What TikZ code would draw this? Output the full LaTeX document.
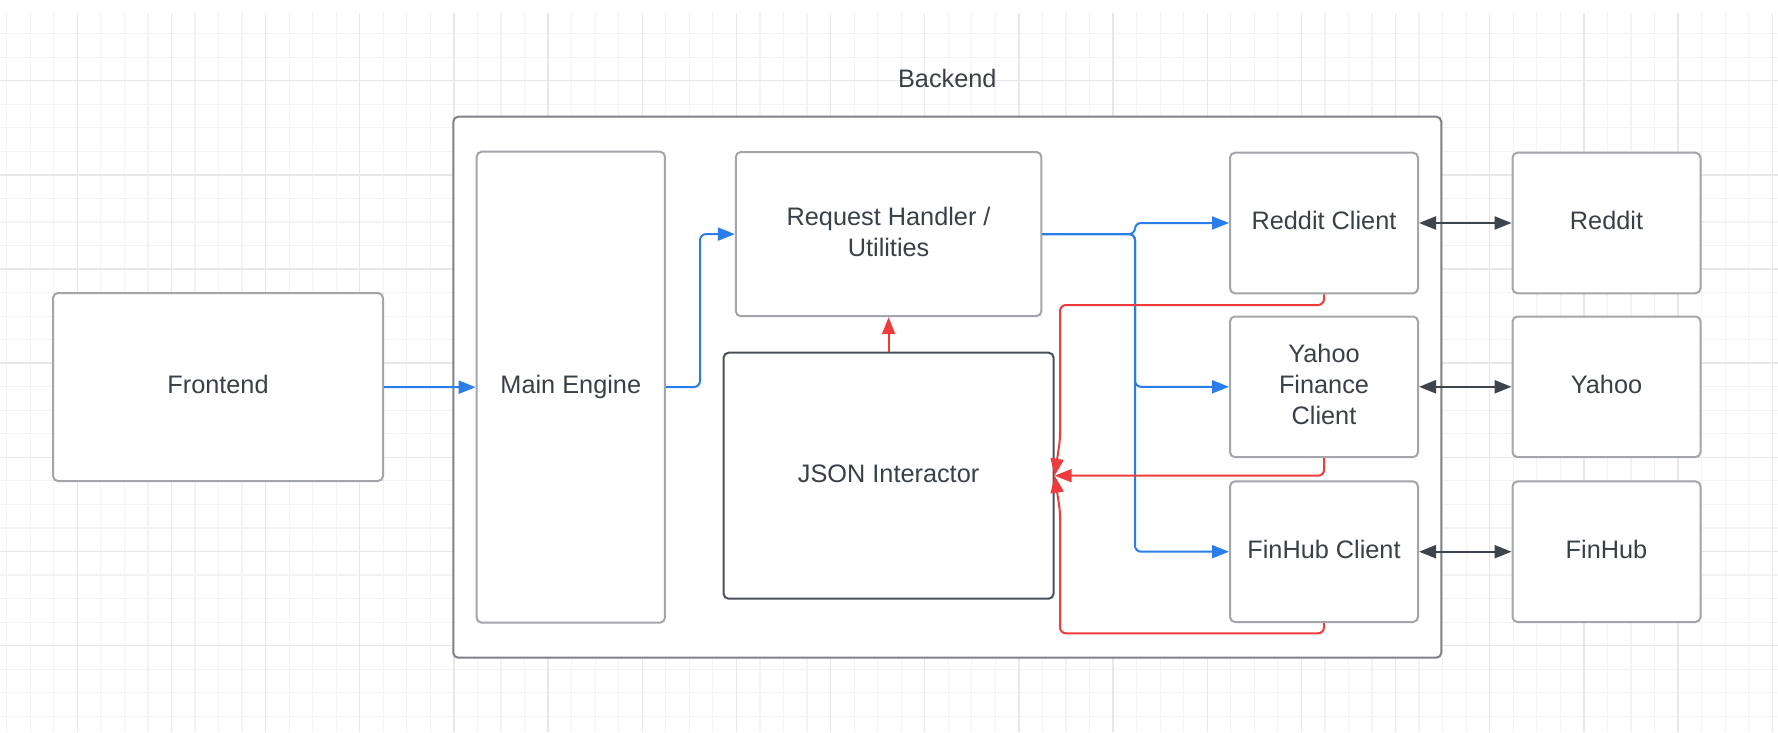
\documentclass[tikz,border=0pt]{standalone}
\usepackage{fontspec}
\setmainfont{Liberation Sans}
\usetikzlibrary{arrows.meta}
\definecolor{gridminor}{HTML}{F3F3F3}
\definecolor{gridmajor}{HTML}{E7E7E7}
\definecolor{boxline}{HTML}{A2A5AA}
\definecolor{outerline}{HTML}{7E8187}
\definecolor{darkline}{HTML}{4A5058}
\definecolor{arrowdark}{HTML}{3E444B}
\definecolor{txt}{HTML}{3A4048}
\definecolor{flowblue}{HTML}{2B7DE9}
\definecolor{flowred}{HTML}{EE3B3B}
\begin{document}
\begin{tikzpicture}[x=1pt,y=-1pt,
  box/.style={draw=boxline, line width=2pt, fill=white, rounded corners=5pt,
    text=txt, align=center, font=\fontsize{25.3}{31}\selectfont, inner sep=0pt, text depth=5pt},
  label/.style={text=txt, font=\fontsize{25.3}{31}\selectfont, inner sep=0pt},
  bluearrow/.style={draw=flowblue, line width=2pt, rounded corners=6pt,
    -{Triangle[length=17pt,width=13pt]}},
  redarrow/.style={draw=flowred, line width=2pt, rounded corners=6pt,
    -{Triangle[length=17pt,width=13pt]}},
  twoway/.style={draw=arrowdark, line width=2.3pt,
    {Triangle[length=17pt,width=13pt]}-{Triangle[length=17pt,width=13pt]}},
  gridminorline/.style={draw=gridminor, line width=1.2pt},
  gridmajorline/.style={draw=gridmajor, line width=1.4pt}]
\useasboundingbox (0,0) rectangle (1778,732);
\fill[white] (0,0) rectangle (1778,732);
% background grid
\foreach \k in {-3,...,72} {\draw[gridminorline] ({77.3+23.54*\k},13) -- ({77.3+23.54*\k},732);}
\foreach \k in {-2,...,27} {\draw[gridminorline] (0,{80.7+23.54*\k}) -- (1778,{80.7+23.54*\k});}
\foreach \k in {0,...,18} {\draw[gridmajorline] ({77.3+94.16*\k},13) -- ({77.3+94.16*\k},732);}
\foreach \k in {0,...,6} {\draw[gridmajorline] (0,{80.7+94.16*\k}) -- (1778,{80.7+94.16*\k});}
% backend container
\node[box, draw=outerline, minimum width=988pt, minimum height=541pt] (backend) at (947.3,387.2) {};
\node[label] (backendlabel) at (947.3,78.2) {Backend};
% nodes
\node[box, minimum width=330pt, minimum height=188pt] (fe) at (218,387) {Frontend};
\node[box, minimum width=188.3pt, minimum height=471pt] (me) at (570.8,387.2) {Main Engine};
\node[box, minimum width=305.5pt, minimum height=164.2pt] (rh) at (888.6,234.1) {Request Handler /\\Utilities};
\node[box, draw=darkline, minimum width=330pt, minimum height=246pt] (json) at (888.6,475.7) {JSON Interactor};
\node[box, minimum width=188pt, minimum height=140.6pt] (rc) at (1324,223) {Reddit Client};
\node[box, minimum width=188pt, minimum height=140.6pt] (yc) at (1324,386.8) {Yahoo\\Finance\\Client};
\node[box, minimum width=188pt, minimum height=140.6pt] (fc) at (1324,551.7) {FinHub Client};
\node[box, minimum width=188pt, minimum height=140.6pt] (re) at (1606.5,223) {Reddit};
\node[box, minimum width=188pt, minimum height=140.6pt] (ya) at (1606.5,386.8) {Yahoo};
\node[box, minimum width=188pt, minimum height=140.6pt] (fh) at (1606.5,551.7) {FinHub};
% blue flow
\draw[bluearrow] (fe.east) -- (me.west);
\draw[bluearrow] (me.east) -- (700,387) -- (700,234.1) -- (rh.west);
\draw[bluearrow] (rh.east) -- (1135,234.1) -- (1135,223) -- (rc.west);
\draw[bluearrow] (rh.east) -- (1135,234.1) -- (1135,386.8) -- (yc.west);
\draw[bluearrow] (rh.east) -- (1135,234.1) -- (1135,551.7) -- (fc.west);
% red flow
\draw[redarrow] (json.north) -- (rh.south);
\draw[redarrow] (rc.south) -- (1324,305) -- (1060,305) -- (1060,440) -- (json.east);
\draw[redarrow] (yc.south) -- (1324,475.7) -- (json.east);
\draw[redarrow] (fc.south) -- (1324,633.3) -- (1060,633.3) -- (1060,511) -- (json.east);
% external links
\draw[twoway] (rc.east) -- (re.west);
\draw[twoway] (yc.east) -- (ya.west);
\draw[twoway] (fc.east) -- (fh.west);
\end{tikzpicture}
\end{document}
